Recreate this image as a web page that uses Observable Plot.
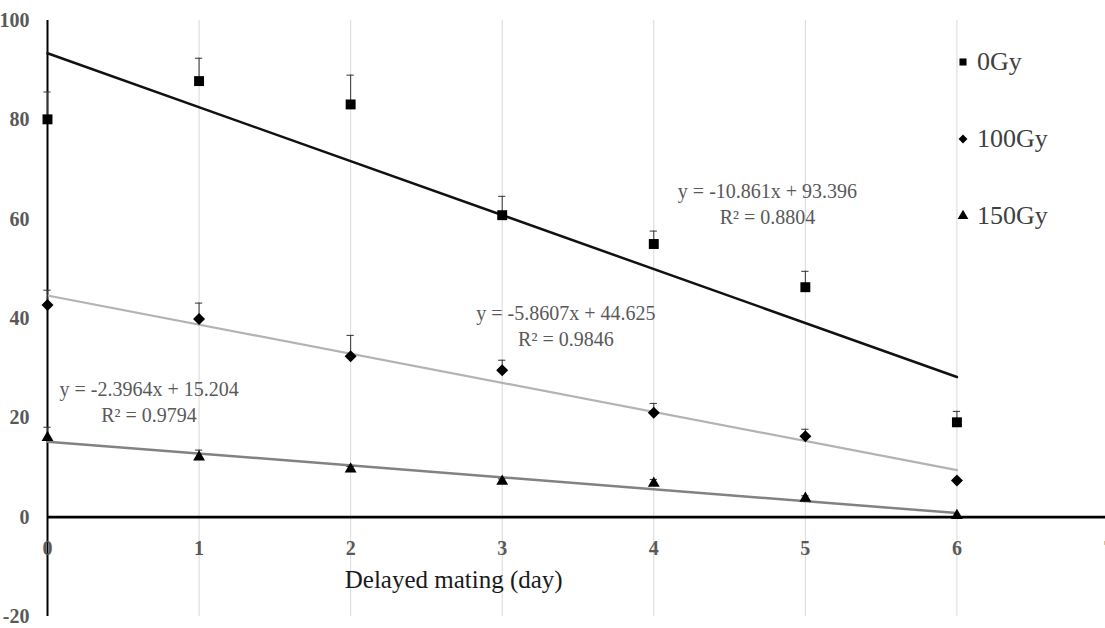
<!DOCTYPE html>
<html>
<head>
<meta charset="utf-8">
<script src="https://cdn.jsdelivr.net/npm/d3@7"></script>
<script src="https://cdn.jsdelivr.net/npm/@observablehq/plot@0.6"></script>
<style>
  html, body { margin: 0; padding: 0; background: #fff; }
  #wrap { position: relative; width: 1105px; height: 628px; overflow: hidden; }
  #legend { position: absolute; left: 957px; top: 44px; font-family: "Liberation Serif", "Times New Roman", serif; font-size: 26px; color: #404040; }
  #legend .item { display: flex; align-items: center; height: 36px; margin-bottom: 41px; }
  #legend svg { margin-right: 8px; }
</style>
</head>
<body>
<div id="wrap"><div id="legend"></div></div>
<script>
// ---- data ----
const days = [0, 1, 2, 3, 4, 5, 6];
const seriesNames = ["0Gy", "100Gy", "150Gy"];
const mean0 = [80.1, 87.8, 83.1, 60.8, 55.0, 46.3, 19.1];
const err0  = [5.5, 4.6, 5.9, 3.8, 2.6, 3.2, 2.2];
const mean100 = [42.7, 39.9, 32.4, 29.6, 21.0, 16.3, 7.4];
const err100  = [3.0, 3.2, 4.2, 2.0, 1.9, 1.4, 0];
const mean150 = [16.0, 12.1, 9.7, 7.2, 6.8, 3.8, 0.3];
const err150  = [2.1, 1.4, 0.5, 0.5, 0.8, 0.5, 0];
const slopes = [-10.861, -5.8607, -2.3964];
const intercepts = [93.396, 44.625, 15.204];
const r2 = ["0.8804", "0.9846", "0.9794"];
const xTicks = [0, 1, 2, 3, 4, 5, 6, 7];
const yTicks = [-20, 0, 20, 40, 60, 80, 100];
const xTitle = "Delayed mating (day)";

const symbols = ["square", "diamond2", "triangle"];
const symbolR = [5.6, 5.4, 4.4];
const lineColors = ["#111111", "#b3b3b3", "#828282"];
const lineWidths = [2.5, 2.2, 2.5];
// equation label anchor points (data coords)
const eqPos = [[4.75, 63.3], [3.42, 38.8], [0.67, 23.5]];

const means = [mean0, mean100, mean150];
const errs = [err0, err100, err150];
const points = [];
seriesNames.forEach((s, i) => days.forEach((d, j) => points.push({series: i, x: d, y: means[i][j], top: means[i][j] + errs[i][j]})));
const fits = [];
seriesNames.forEach((s, i) => [0, 6].forEach(d => fits.push({series: i, x: d, y: intercepts[i] + slopes[i] * d})));
const eqs = seriesNames.map((s, i) => ({
  x: eqPos[i][0], y: eqPos[i][1],
  text: `y = ${slopes[i]}x + ${intercepts[i].toFixed(3)}\nR² = ${r2[i]}`
}));

const chart = Plot.plot({
  width: 1105, height: 628,
  marginLeft: 47, marginRight: -3, marginTop: 20, marginBottom: 12,
  x: {domain: [0, 7], range: [47, 1108], axis: null},
  y: {domain: [-20, 100], range: [616, 20]},
  r: {type: "identity"},
  style: {fontFamily: "'Liberation Serif', 'Times New Roman', serif", background: "#fff", overflow: "hidden"},
  marks: [
    Plot.ruleX(xTicks.filter(d => d > 0), {y1: -20, y2: 100, stroke: "#d9d9d9", strokeWidth: 1}),
    Plot.ruleX([0], {y1: -20, y2: 100, stroke: "#000", strokeWidth: 2}),
    Plot.ruleY([0], {x1: 0, x2: 7, stroke: "#000", strokeWidth: 2.6}),
    Plot.axisY({ticks: yTicks, tickSize: 0, tickPadding: 18, label: null, fontSize: 20, fontWeight: "bold", fill: "#595959", tickFormat: d => String(d)}),
    Plot.text(xTicks, {x: d => d, y: 0, dy: 31, text: d => String(d), fontSize: 20, fontWeight: "bold", fill: "#595959"}),
    Plot.text([xTitle], {x: 2.68, y: -12.6, text: d => d, fontSize: 25, fill: "#1a1a1a"}),
    Plot.line(fits, {x: "x", y: "y", z: "series", stroke: d => lineColors[d.series], strokeWidth: d => lineWidths[d.series]}),
    Plot.ruleX(points.filter(p => p.top > p.y), {x: "x", y1: "y", y2: "top", stroke: "#333", strokeWidth: 1}),
    Plot.ruleY(points.filter(p => p.top > p.y), {y: "top", x1: p => p.x - 0.024, x2: p => p.x + 0.024, stroke: "#333", strokeWidth: 1}),
    Plot.dot(points, {x: "x", y: "y", symbol: d => symbols[d.series], r: d => symbolR[d.series], fill: "#000", stroke: "none"}),
    Plot.text(eqs, {x: "x", y: "y", text: "text", fontSize: 20, fill: "#595959", lineHeight: 1.3})
  ]
});
document.getElementById("wrap").prepend(chart);

// legend
const legend = document.getElementById("legend");
const sym = [d3.symbolSquare, d3.symbolDiamond2, d3.symbolTriangle];
seriesNames.forEach((name, i) => {
  const item = document.createElement("div");
  item.className = "item";
  const svg = d3.create("svg").attr("width", 12).attr("height", 12);
  svg.append("path").attr("transform", "translate(6,6)").attr("d", d3.symbol(sym[i], 50)()).attr("fill", "#000");
  item.appendChild(svg.node());
  const t = document.createElement("span");
  t.textContent = name;
  item.appendChild(t);
  legend.appendChild(item);
});
</script>
</body>
</html>
